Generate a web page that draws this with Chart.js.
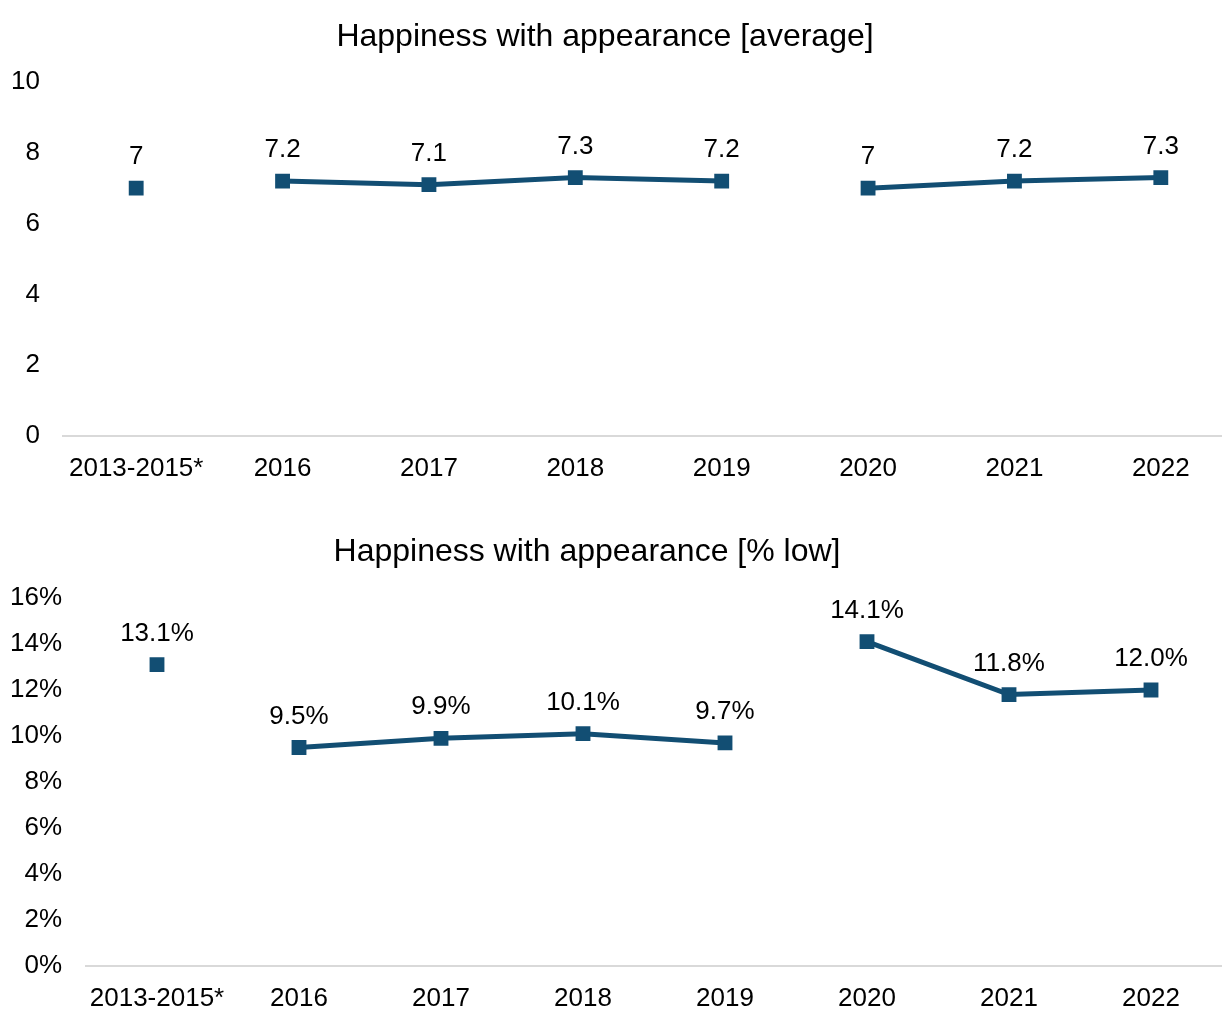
<!DOCTYPE html>
<html>
<head>
<meta charset="utf-8">
<script src="https://cdn.jsdelivr.net/npm/chart.js@4/dist/chart.umd.min.js"></script>
<style>
  html, body { margin: 0; padding: 0; background: #fff; overflow: hidden; }
  #wrap1 { position: absolute; left: 0; top: 0; }
  #wrap2 { position: absolute; left: 0; top: 500px; }
</style>
</head>
<body>
<div id="wrap1"><canvas id="c1" width="1234" height="500"></canvas></div>
<div id="wrap2"><canvas id="c2" width="1222" height="510"></canvas></div>
<script>
// ---- Data ----
const categories = ['2013-2015*', '2016', '2017', '2018', '2019', '2020', '2021', '2022'];
const averageValues = [7, 7.2, 7.1, 7.3, 7.2, 7, 7.2, 7.3];
const lowPercentValues = [13.1, 9.5, 9.9, 10.1, 9.7, 14.1, 11.8, 12.0];
// line is broken after these category indexes
const lineBreaksAfter = [0, 4];
const averageTicks = [0, 2, 4, 6, 8, 10];
const percentTicks = [0, 2, 4, 6, 8, 10, 12, 14, 16];

// ---- Styles ----
const FONT = '"Liberation Sans", Arial, sans-serif';
const LINE_COLOR = '#124e73';
const AXIS_COLOR = '#d9d9d9';

const valueLabels = {
  id: 'valueLabels',
  afterDatasetsDraw(chart, args, opts) {
    const ctx = chart.ctx;
    const meta = chart.getDatasetMeta(0);
    const data = chart.data.datasets[0].data;
    ctx.save();
    ctx.font = opts.size + 'px ' + FONT;
    ctx.fillStyle = '#000';
    ctx.textAlign = 'center';
    ctx.textBaseline = 'middle';
    meta.data.forEach((pt, i) => {
      ctx.fillText(opts.format(data[i]), pt.x, pt.y - opts.offset);
    });
    // chart title
    ctx.font = opts.titleSize + 'px ' + FONT;
    ctx.fillText(opts.title, opts.titleX, opts.titleY);
    ctx.restore();
  }
};

function makeChart(id, cfg) {
  return new Chart(document.getElementById(id), {
    type: 'line',
    data: {
      labels: categories,
      datasets: [{
        data: cfg.values,
        borderColor: LINE_COLOR,
        backgroundColor: LINE_COLOR,
        borderWidth: 5,
        pointStyle: 'rect',
        pointRadius: 10.5,
        pointHoverRadius: 10.5,
        pointBorderWidth: 0,
        tension: 0,
        segment: {
          borderColor: c => lineBreaksAfter.includes(c.p0DataIndex) ? 'rgba(0,0,0,0)' : LINE_COLOR
        }
      }]
    },
    options: {
      responsive: false,
      devicePixelRatio: 1,
      animation: false,
      layout: { padding: { top: cfg.topPad, left: 0, right: 0, bottom: 0 }, autoPadding: false },
      plugins: {
        legend: { display: false },
        tooltip: { enabled: false },
        title: { display: false },
        valueLabels: {
          size: 26, offset: 31, format: cfg.labelFormat,
          title: cfg.title, titleSize: 32, titleX: cfg.titleX, titleY: cfg.titleY
        }
      },
      scales: {
        x: {
          type: 'category',
          offset: true,
          grid: { display: false, drawTicks: false },
          border: { display: true, color: AXIS_COLOR, width: 2 },
          ticks: { color: '#000', font: { family: FONT, size: 26 }, padding: 17, maxRotation: 0, autoSkip: false },
          afterFit(s) { s.height = cfg.xHeight; }
        },
        y: {
          min: 0,
          max: cfg.max,
          grid: { display: false, drawTicks: false },
          border: { display: false },
          afterBuildTicks(s) { s.ticks = cfg.ticks.map(v => ({ value: v })); },
          ticks: {
            color: '#000',
            font: { family: FONT, size: 26 },
            padding: cfg.yPad,
            callback: cfg.tickFormat
          },
          afterFit(s) { s.width = cfg.yWidth; }
        }
      }
    },
    plugins: [valueLabels]
  });
}

makeChart('c1', {
  title: 'Happiness with appearance [average]',
  values: averageValues,
  max: 10,
  ticks: averageTicks,
  tickFormat: v => String(v),
  labelFormat: v => String(v),
  topPad: 82,
  titleX: 605,
  titleY: 37,
  xHeight: 64,
  yWidth: 63,
  yPad: 23
});

makeChart('c2', {
  title: 'Happiness with appearance [% low]',
  values: lowPercentValues,
  max: 16,
  ticks: percentTicks,
  tickFormat: v => v + '%',
  labelFormat: v => v.toFixed(1) + '%',
  topPad: 98,
  titleX: 587,
  titleY: 52,
  xHeight: 44,
  yWidth: 86,
  yPad: 24
});
</script>
</body>
</html>
